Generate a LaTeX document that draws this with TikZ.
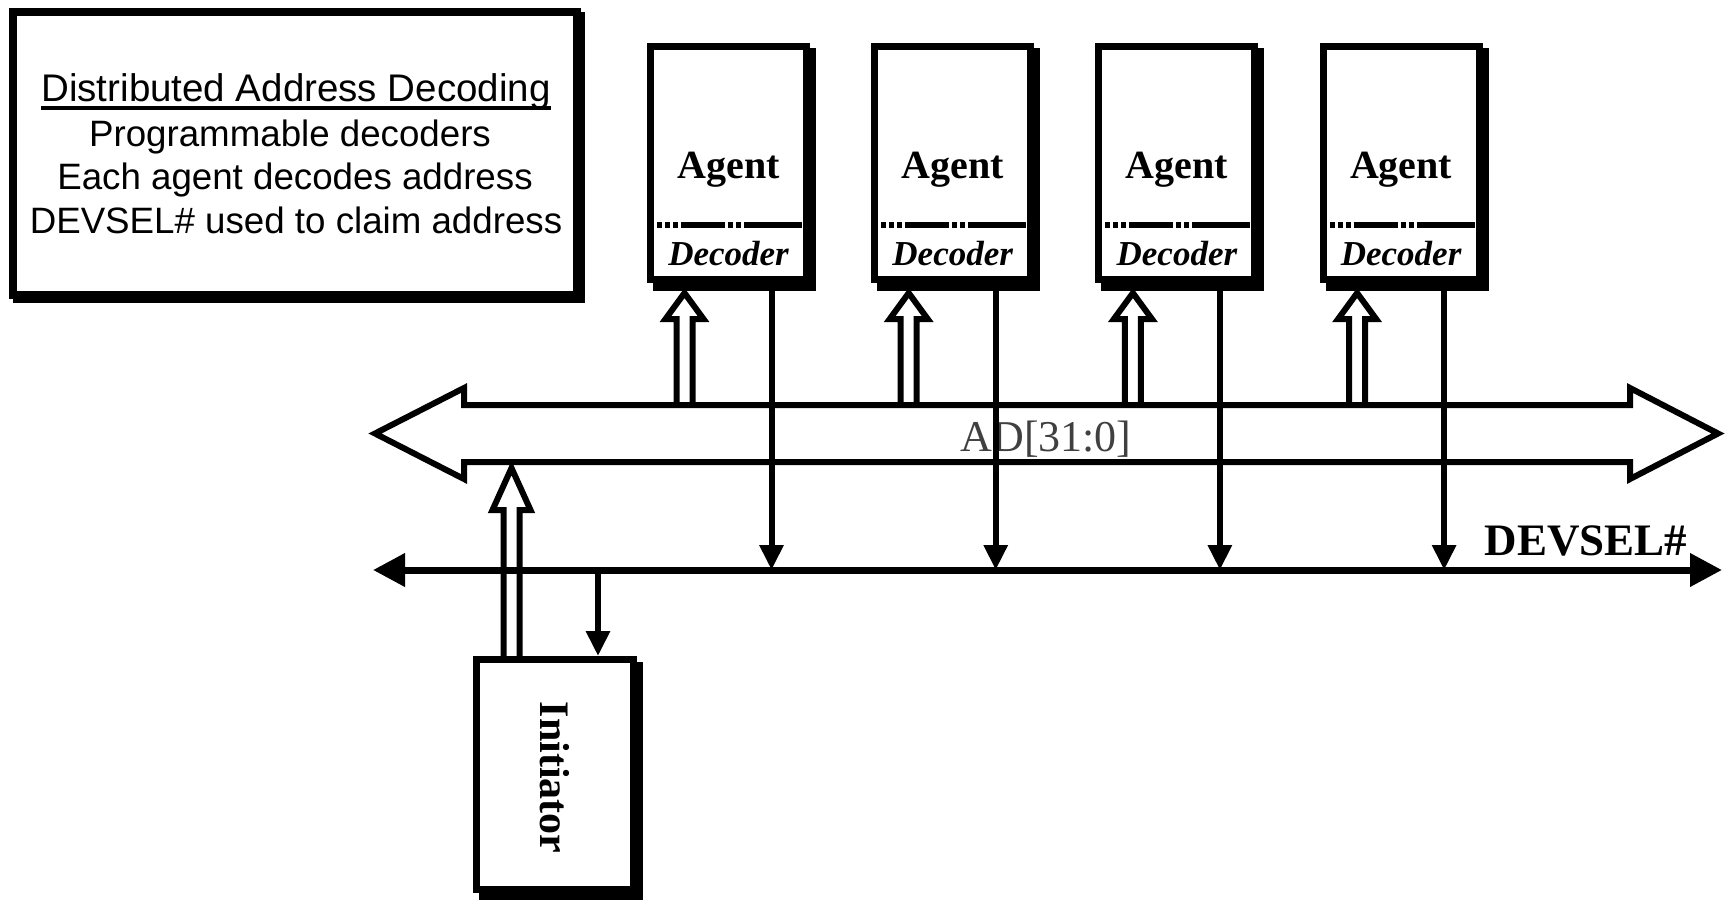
\documentclass[tikz,border=0pt]{standalone}
\usepackage{fontspec}
\setmainfont{Liberation Serif}
\newfontfamily\arialf{Liberation Sans}
\usetikzlibrary{arrows.meta,calc,backgrounds}
\newcommand\ulbox[1]{\setbox0\hbox{#1}\rlap{\rule[-9pt]{\wd0}{4pt}}\box0}
\begin{document}
\begin{tikzpicture}[x=1pt,y=-1pt,
  blk/.style={draw,line width=7pt,fill=white,inner sep=0pt},
  agentbox/.style={blk,minimum width=156pt,minimum height=233pt},
  hollow/.style={line width=6pt,line join=miter},
  sig/.style={line width=6pt,-{Triangle[length=25pt,width=23pt]}},
  devbus/.style={line width=7pt,{Triangle[length=32pt,width=32pt]}-{Triangle[length=32pt,width=32pt]}},
  sepline/.style={line width=6.5pt,dash pattern=on 5pt off 3pt on 5pt off 3pt on 5pt off 3pt on 44pt off 3pt on 5pt off 3pt on 5pt off 3pt on 60pt off 3pt},
  agenttxt/.style={font=\fontsize{40}{48}\selectfont\bfseries,inner sep=0pt,anchor=base},
  dectxt/.style={font=\fontsize{35}{42}\selectfont\bfseries\itshape,inner sep=0pt,anchor=base},
  infotxt/.style={font=\arialf\fontsize{36.7}{44}\selectfont,inner sep=0pt,anchor=base},
]
\useasboundingbox (0,0) rectangle (1734,902);

% info box
\node[blk,line width=8pt,minimum width=564pt,minimum height=283pt] (info) at (295,153.5) {};
\begin{scope}[on background layer]
  \fill ($(info.north west)+(4,4)$) rectangle ($(info.south east)+(4,4)$);
\end{scope}
\node[infotxt,font=\arialf\fontsize{38.5}{46}\selectfont] (l1) at (296,101) {\ulbox{Distributed Address Decoding}};
\node[infotxt] (l2) at (290,146) {Programmable decoders};
\node[infotxt] (l3) at (295,189) {Each agent decodes address};
\node[infotxt] (l4) at (296,233) {DEVSEL\# used to claim address};

% AD bus
\coordinate (busT) at (0,405);
\coordinate (busB) at (0,462);
\node[font=\fontsize{44}{52}\selectfont,text=black!75,inner sep=0pt,anchor=base] (ad) at (1046,451) {AD[31:0]};
\draw[hollow] (464,405) -- (1630,405) -- (1630,388) -- (1718,433.5) -- (1630,479) -- (1630,462) -- (464,462) -- (464,479) -- (375,433.5) -- (464,388) -- cycle;

% DEVSEL line
\coordinate (devL) at (373,570);
\coordinate (devR) at (1722,570);
\draw[devbus] (devL) -- (devR);
\node[font=\fontsize{45}{54}\selectfont\bfseries,inner sep=0pt,anchor=base] (dev) at (1586,555) {DEVSEL\#};

% agents
\foreach \i/\c in {1/728.5,2/952.7,3/1176.9,4/1401.1} {
  \node[agentbox] (ag\i) at (\c,163) {};
  \begin{scope}[on background layer]
    \fill ($(ag\i.north west)+(6,5)$) rectangle ($(ag\i.south east)+(6,8)$);
  \end{scope}
  \node[agenttxt] (agt\i) at (\c,178) {Agent};
  \node[dectxt] (dec\i) at (\c,265) {Decoder};
  \draw[sepline] ($(ag\i.west)+(10,62)$) -- ($(ag\i.east)+(-8,62)$);
  \coordinate (u\i) at ($(ag\i.south |- busT)+(-44,0)$);
  \draw[hollow] (u\i) ++(-8,0) -- ++(0,-86) -- ++(-11,0) -- ++(19,-26) -- ++(19,26) -- ++(-11,0) -- ++(0,86);
  \coordinate (d\i) at ($(ag\i.south)+(43,0)$);
  \draw[sig] (d\i) -- (d\i |- devL);
}

% initiator
\node[blk,minimum width=157pt,minimum height=230pt] (ini) at (555,774.5) {};
\begin{scope}[on background layer]
  \fill ($(ini.north west)+(6,6)$) rectangle ($(ini.south east)+(6,7)$);
\end{scope}
\node[font=\fontsize{42}{50}\selectfont\bfseries,inner sep=0pt,rotate=-90] (initxt) at ($(ini.center)+(0,3)$) {Initiator};
\coordinate (ib) at ($(ini.north)+(-43.5,0)$);
\draw[hollow] (ib) ++(-8,0) -- ++(0,-146) -- ++(-11,0) -- ++(19,-42) -- ++(19,42) -- ++(-11,0) -- ++(0,146);
\coordinate (is) at ($(ini.north |- devL)+(43,0)$);
\draw[sig] (is) -- (is |- ini.north);
\end{tikzpicture}
\end{document}
